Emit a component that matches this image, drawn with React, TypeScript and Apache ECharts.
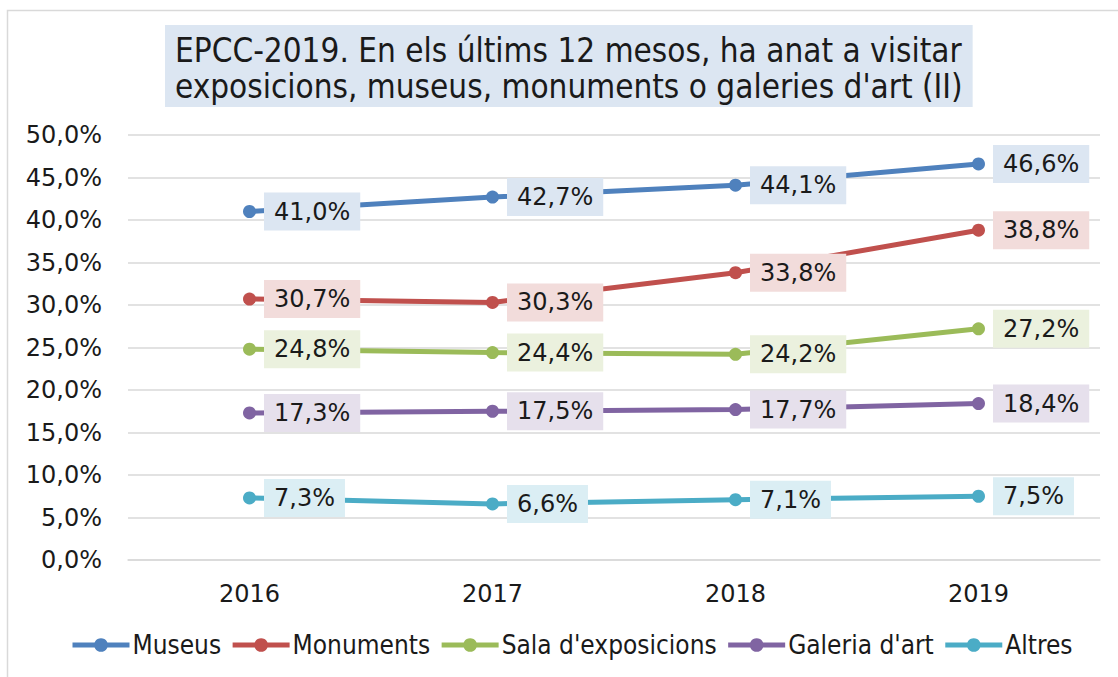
import React, { useEffect, useRef } from "react";
import * as echarts from "echarts";

const years = ["2016", "2017", "2018", "2019"];
const museus = [41.0, 42.7, 44.1, 46.6];
const monuments = [30.7, 30.3, 33.8, 38.8];
const sala = [24.8, 24.4, 24.2, 27.2];
const galeria = [17.3, 17.5, 17.7, 18.4];
const altres = [7.3, 6.6, 7.1, 7.5];

const seriesNames = ["Museus", "Monuments", "Sala d'exposicions", "Galeria d'art", "Altres"];
const seriesData = [museus, monuments, sala, galeria, altres];
const colors = ["#4f81bd", "#c0504d", "#9bbb59", "#8064a2", "#4bacc6"];
const labelBgs = ["#dce6f2", "#f2dcdb", "#ebf1de", "#e6e0ec", "#dbeef4"];

const fmt = (v: number) => v.toFixed(1).replace(".", ",") + "%";

export default function App() {
  const ref = useRef<HTMLDivElement>(null);
  useEffect(() => {
    if (!ref.current) return;
    const chart = echarts.init(ref.current, null, { renderer: "svg" });
    const condensed = "'DejaVu Sans Condensed', 'DejaVu Sans', sans-serif";
    const sans = "'DejaVu Sans', Verdana, sans-serif";
    chart.setOption({
      animation: false,
      backgroundColor: "#ffffff",
      title: {
        text: "EPCC-2019. En els últims 12 mesos, ha anat a visitar\nexposicions, museus, monuments o galeries d'art (II)",
        left: 165,
        top: 25,
        backgroundColor: "#dce6f2",
        padding: [7, 10, 3, 10],
        textStyle: {
          fontFamily: condensed,
          fontSize: 33,
          fontWeight: "normal",
          color: "#1a1a1a",
          lineHeight: 36,
        },
      },
      graphic: [
        {
          type: "rect",
          shape: { x: 7.5, y: 10.5, width: 1200, height: 700 },
          style: { fill: "none", stroke: "#d9d9d9", lineWidth: 1.5 },
          silent: true,
        },
      ],
      legend: {
        bottom: 14,
        left: 65,
        itemWidth: 57,
        itemHeight: 17,
        itemGap: 9,
        lineStyle: { width: 5 },
        textStyle: { fontFamily: condensed, fontSize: 26, color: "#1a1a1a", padding: [0, 0, 0, -2] },
        data: seriesNames,
      },
      grid: { left: 128, right: 18, top: 135, bottom: 117 },
      xAxis: {
        type: "category",
        data: years,
        boundaryGap: true,
        axisLine: { show: true, lineStyle: { color: "#d9d9d9", width: 1.5 } },
        axisTick: { show: false },
        axisLabel: { fontFamily: sans, fontSize: 24, color: "#1a1a1a", margin: 22 },
      },
      yAxis: {
        type: "value",
        min: 0,
        max: 50,
        interval: 5,
        axisLine: { show: false },
        axisTick: { show: false },
        axisLabel: {
          fontFamily: sans,
          fontSize: 24,
          color: "#1a1a1a",
          margin: 26,
          formatter: (v: number) => fmt(v),
        },
        splitLine: { lineStyle: { color: "#d9d9d9", width: 1.5 } },
      },
      series: seriesNames.map((name, i) => ({
        name,
        type: "line",
        data: seriesData[i],
        color: colors[i],
        symbol: "circle",
        symbolSize: 13,
        lineStyle: { width: 5, color: colors[i] },
        itemStyle: { color: colors[i] },
        label: {
          show: true,
          position: "right",
          distance: 8,
          formatter: (p: any) => fmt(p.value),
          backgroundColor: labelBgs[i],
          padding: [6, 10, 6, 10],
          lineHeight: 26,
          fontFamily: sans,
          fontSize: 24,
          color: "#1a1a1a",
        },
      })),
    });
    return () => chart.dispose();
  }, []);
  return (
    <div
      ref={ref}
      style={{ position: "absolute", left: 0, top: 0, width: 1118, height: 677 }}
    />
  );
}
